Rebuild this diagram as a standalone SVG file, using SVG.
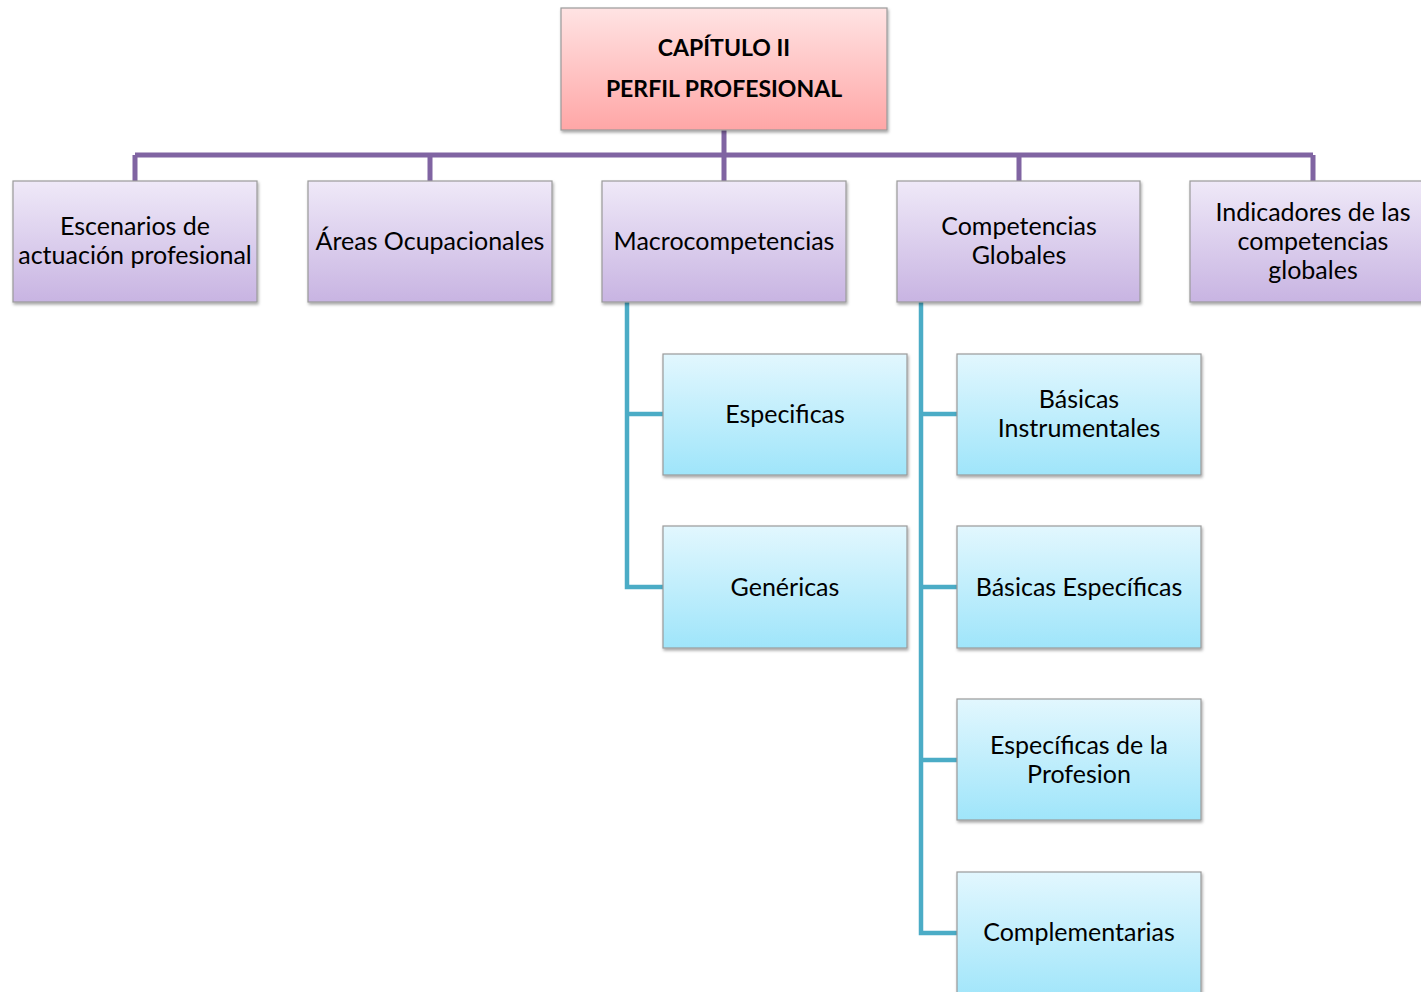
<svg xmlns="http://www.w3.org/2000/svg" width="1421" height="992" viewBox="0 0 1421 992">
<defs>
<linearGradient id="gRoot" x1="0" y1="0" x2="0" y2="1"><stop offset="0" stop-color="#ffe3e3"/><stop offset="1" stop-color="#ffa6a6"/></linearGradient>
<linearGradient id="gPurple" x1="0" y1="0" x2="0" y2="1"><stop offset="0" stop-color="#efe9f8"/><stop offset="1" stop-color="#c8b4e2"/></linearGradient>
<linearGradient id="gBlue" x1="0" y1="0" x2="0" y2="1"><stop offset="0" stop-color="#e2f7fe"/><stop offset="1" stop-color="#9fe5fa"/></linearGradient>
<filter id="sh" x="-10%" y="-10%" width="120%" height="130%"><feDropShadow dx="1" dy="2" stdDeviation="1.5" flood-color="#000" flood-opacity="0.35"/></filter>
</defs>
<style>
.box{stroke:#9a9a9a;stroke-width:1.2;filter:url(#sh)}
.root{fill:url(#gRoot)}
.p{fill:url(#gPurple)}
.b{fill:url(#gBlue)}
text{font-family:Lato,"Open Sans",sans-serif;font-size:25px;fill:#000;text-anchor:middle}
.bold{font-weight:bold;font-size:23px}
.pl{stroke:#8064a2;stroke-width:5;fill:none}
.tl{stroke:#4bacc6;stroke-width:4.5;fill:none}
</style>
<g id="connectors">
<path class="pl" d="M724 130V181M135 155H1313M135 155V181M430 155V181M1019 155V181M1313 155V181"/>
<path class="tl" d="M627 302V587H663M627 414H663"/>
<path class="tl" d="M921 302V933H957M921 414H957M921 587H957M921 760H957"/>
</g>
<g id="root"><rect class="box root" x="561" y="8" width="326" height="122"/><text class="bold" x="724" y="56">CAPÍTULO II</text><text class="bold" x="724" y="97">PERFIL PROFESIONAL</text></g>
<g id="escenarios"><rect class="box p" x="13" y="181" width="244" height="121"/><text x="135" y="235">Escenarios de</text><text x="135" y="264">actuación profesional</text></g>
<g id="areas"><rect class="box p" x="308" y="181" width="244" height="121"/><text x="430" y="250">Áreas Ocupacionales</text></g>
<g id="macro"><rect class="box p" x="602" y="181" width="244" height="121"/><text x="724" y="250">Macrocompetencias</text></g>
<g id="globales"><rect class="box p" x="897" y="181" width="243" height="121"/><text x="1019" y="235">Competencias</text><text x="1019" y="264">Globales</text></g>
<g id="indicadores"><rect class="box p" x="1190" y="181" width="244" height="121"/><text x="1313" y="221">Indicadores de las</text><text x="1313" y="250">competencias</text><text x="1313" y="279">globales</text></g>
<g id="especificas"><rect class="box b" x="663" y="354" width="244" height="121"/><text x="785" y="423">Especificas</text></g>
<g id="genericas"><rect class="box b" x="663" y="526" width="244" height="122"/><text x="785" y="596">Genéricas</text></g>
<g id="basicas-instr"><rect class="box b" x="957" y="354" width="244" height="121"/><text x="1079" y="408">Básicas</text><text x="1079" y="437">Instrumentales</text></g>
<g id="basicas-esp"><rect class="box b" x="957" y="526" width="244" height="122"/><text x="1079" y="596">Básicas Específicas</text></g>
<g id="esp-profesion"><rect class="box b" x="957" y="699" width="244" height="121"/><text x="1079" y="754">Específicas de la</text><text x="1079" y="783">Profesion</text></g>
<g id="complementarias"><rect class="box b" x="957" y="872" width="244" height="130"/><text x="1079" y="941">Complementarias</text></g>
</svg>
